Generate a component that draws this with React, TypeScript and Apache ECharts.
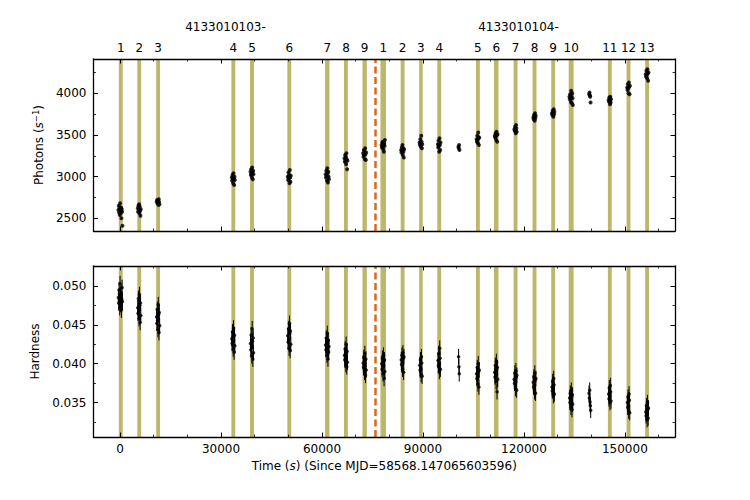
import React, { useEffect, useRef } from 'react';
import * as echarts from 'echarts';

const FONT = '"DejaVu Sans", sans-serif';

// ---- axes ----
const X_MIN = -7900;
const X_MAX = 164900;
const X_MAJOR_TICKS = [0, 30000, 60000, 90000, 120000, 150000];
const X_MINOR_TICKS = [0, 10000, 20000, 30000, 40000, 50000, 60000, 70000, 80000, 90000, 100000, 110000, 120000, 130000, 140000, 150000, 160000];
const PH_MIN = 2348;
const PH_MAX = 4412;
const PH_MAJOR_TICKS = [2500, 3000, 3500, 4000];
const PH_MINOR_TICKS = [2500, 2750, 3000, 3250, 3500, 3750, 4000, 4250];
const HR_MIN = 0.03057;
const HR_MAX = 0.05257;
const HR_MAJOR_TICKS = [0.035, 0.04, 0.045, 0.05];
const HR_MINOR_TICKS = [0.0325, 0.035, 0.0375, 0.04, 0.0425, 0.045, 0.0475, 0.05];

// ---- observations (shaded spans) ----
const OBS_LABELS = ['1', '2', '3', '4', '5', '6', '7', '8', '9', '1', '2', '3', '4', '5', '6', '7', '8', '9', '10', '11', '12', '13'];
const OBS_START = [-375, 5125, 10725, 33075, 38625, 49705, 60920, 66545, 72030, 77375, 83385, 88875, 94255, 105755, 111095, 116945, 122585, 128125, 133315, 144955, 150515, 156035];
const OBS_END = [775, 6275, 11875, 34225, 39775, 50855, 62220, 67695, 73330, 79025, 84535, 89925, 95405, 106905, 112445, 118095, 123735, 129275, 134765, 146105, 151665, 157185];
const GROUP_LABELS = ['4133010103-', '4133010104-'];
const SWITCH_TIME = 75830;

// ---- light-curve clusters ----
const BIN = 100;
const CLUSTER_TIMES = [100, 5700, 11300, 33650, 39200, 50280, 61570, 67120, 72680, 78200, 83960, 89400, 94830, 100690, 106330, 111770, 117520, 123160, 128700, 134040, 139600, 145530, 151090, 156610];
const PHOTON_ERR = 12;
const HARDNESS_ERR = 0.001;

const PHOTONS = [
  [2600, 2650, 2570, 2620, 2540, 2680, 2590, 2560, 2630, 2500, 2610, 2580, 2410],
  [2620, 2580, 2650, 2600, 2670, 2560, 2640, 2590, 2530, 2610],
  [2700, 2720, 2680, 2710, 2690, 2660, 2730, 2695, 2670],
  [2990, 2950, 3020, 2970, 2920, 3040, 2980, 2900, 3000, 2960],
  [3060, 3020, 3090, 3040, 2990, 3110, 3050, 2970, 3070, 3030],
  [3000, 2960, 3050, 2980, 3020, 2920, 3080, 2990, 2940, 3010],
  [3030, 2990, 3070, 3010, 2950, 3100, 3040, 2930, 3060, 3000, 2970],
  [3220, 3180, 3260, 3200, 3240, 3150, 3280, 3210, 3090, 3190],
  [3280, 3240, 3320, 3260, 3300, 3210, 3340, 3270, 3200, 3290],
  [3380, 3350, 3410, 3360, 3420, 3330, 3390, 3300, 3400, 3370, 3440],
  [3320, 3290, 3350, 3310, 3380, 3260, 3340, 3300, 3230, 3330],
  [3410, 3380, 3450, 3400, 3360, 3490, 3420, 3340, 3390],
  [3390, 3350, 3430, 3370, 3300, 3460, 3380, 3320, 3410],
  [3360, 3340, 3380, 3320],
  [3450, 3420, 3490, 3440, 3400, 3530, 3460, 3380, 3470],
  [3490, 3470, 3520, 3480, 3440, 3540, 3500, 3420, 3510],
  [3570, 3550, 3600, 3560, 3520, 3620, 3580, 3540],
  [3710, 3690, 3740, 3720, 3670, 3760, 3700, 3730],
  [3760, 3740, 3790, 3770, 3720, 3810, 3750, 3780],
  [3960, 3930, 3990, 3950, 3900, 4030, 3970, 3880, 4000, 3940, 3860],
  [3990, 4010, 3975, 3960, 3890],
  [3920, 3900, 3950, 3910, 3870, 3960, 3890, 3930],
  [4070, 4040, 4110, 4060, 4000, 4130, 4080, 3990, 4090],
  [4230, 4200, 4270, 4220, 4180, 4290, 4240, 4150, 4250],
];

const HARDNESS = [
  [0.0485, 0.0478, 0.0495, 0.0481, 0.0472, 0.0503, 0.0488, 0.0476, 0.0491, 0.0469, 0.0483, 0.0498, 0.048],
  [0.0472, 0.0465, 0.0484, 0.0468, 0.0458, 0.0489, 0.0475, 0.0453, 0.0478, 0.0462],
  [0.046, 0.0452, 0.047, 0.0456, 0.0444, 0.0476, 0.0463, 0.044, 0.0466, 0.0449],
  [0.0432, 0.0426, 0.0441, 0.0429, 0.0419, 0.0446, 0.0435, 0.0415, 0.0437, 0.0423],
  [0.0426, 0.0418, 0.0437, 0.0422, 0.041, 0.0445, 0.0429, 0.0406, 0.0433, 0.0414],
  [0.0436, 0.0428, 0.0445, 0.0431, 0.042, 0.0452, 0.0439, 0.0417, 0.0442, 0.0425],
  [0.0424, 0.0418, 0.0433, 0.0421, 0.0411, 0.0439, 0.0427, 0.0406, 0.043, 0.0415, 0.0422],
  [0.0411, 0.0405, 0.0419, 0.0408, 0.0399, 0.0425, 0.0414, 0.0396, 0.0416, 0.0402],
  [0.0401, 0.0395, 0.0408, 0.0398, 0.0389, 0.0413, 0.0404, 0.0385, 0.0406, 0.0392],
  [0.04, 0.0393, 0.0407, 0.0397, 0.0387, 0.0411, 0.0403, 0.0381, 0.0405, 0.039],
  [0.0405, 0.0399, 0.0411, 0.0402, 0.0393, 0.0414, 0.0407, 0.0389, 0.0409],
  [0.0398, 0.0392, 0.0405, 0.0395, 0.0386, 0.0409, 0.0401, 0.0384],
  [0.0404, 0.0397, 0.0413, 0.04, 0.039, 0.042, 0.0407, 0.0393],
  [0.0409, 0.0396, 0.0387],
  [0.0387, 0.0381, 0.0395, 0.0384, 0.0374, 0.04, 0.039, 0.037, 0.0392],
  [0.0389, 0.0383, 0.0398, 0.0386, 0.0377, 0.0403, 0.0392, 0.0364, 0.0395, 0.038],
  [0.038, 0.0375, 0.0388, 0.0378, 0.0368, 0.0391, 0.0383, 0.0366, 0.0385],
  [0.0376, 0.037, 0.0383, 0.0373, 0.0364, 0.0388, 0.0379, 0.0362, 0.0381],
  [0.037, 0.0365, 0.0377, 0.0368, 0.0359, 0.0381, 0.0373, 0.0361],
  [0.0356, 0.035, 0.0362, 0.0353, 0.0344, 0.0366, 0.0358, 0.0341, 0.036, 0.0348],
  [0.0362, 0.0356, 0.0366, 0.0351, 0.0346, 0.034],
  [0.0361, 0.0355, 0.0369, 0.0358, 0.035, 0.0372, 0.0364, 0.0352],
  [0.035, 0.0344, 0.0357, 0.0347, 0.0339, 0.0361, 0.0353, 0.0337],
  [0.0338, 0.0333, 0.0346, 0.0336, 0.0328, 0.035, 0.0341, 0.033, 0.0343],
];

const BAR_COLOR = '#bdb76b';
const SWITCH_COLOR = '#d9691e';

function buildPoints(values: number[][], err: number) {
  const pts: number[][] = [];
  CLUSTER_TIMES.forEach((t0, k) => {
    const vals = values[k];
    const n = vals.length;
    vals.forEach((v, i) => {
      pts.push([t0 + (i - (n - 1) / 2) * BIN, v, err]);
    });
  });
  return pts;
}

const barRender = (withLabels: boolean) => (params: any, api: any) => {
  const cs = params.coordSys;
  const x0 = api.coord([api.value(0), 0])[0];
  const x1 = api.coord([api.value(1), 0])[0];
  const children: any[] = [
    { type: 'rect', shape: { x: x0, y: cs.y, width: x1 - x0, height: cs.height }, style: { fill: BAR_COLOR } },
  ];
  if (withLabels) {
    children.push({
      type: 'text',
      x: (x0 + x1) / 2,
      y: cs.y - 11.5,
      style: {
        text: OBS_LABELS[params.dataIndex],
        fill: '#000',
        fontSize: 12,
        fontFamily: FONT,
        align: 'center',
        verticalAlign: 'middle',
      },
    });
  }
  return { type: 'group', children };
};

const errRender = (params: any, api: any) => {
  const t = api.value(0);
  const v = api.value(1);
  const e = api.value(2);
  const p0 = api.coord([t, v - e]);
  const p1 = api.coord([t, v + e]);
  return {
    type: 'line',
    shape: { x1: p0[0], y1: p0[1], x2: p1[0], y2: p1[1] },
    style: { stroke: '#000', lineWidth: 1 },
  };
};

const LINE = { color: '#000', width: 1.3 };

function xAxes(grid: number, withLabels: boolean) {
  const base = { type: 'value', gridIndex: grid, min: X_MIN, max: X_MAX, splitLine: { show: false }, z: 10 };
  return [
    {
      ...base,
      position: 'bottom',
      axisLine: { show: true, onZero: false, lineStyle: LINE },
      axisTick: { show: true, inside: true, length: 4.5, customValues: X_MAJOR_TICKS, lineStyle: { color: '#000', width: 1 } },
      axisLabel: withLabels
        ? { show: true, customValues: X_MAJOR_TICKS, margin: 6, color: '#000', fontSize: 12, fontFamily: FONT, formatter: (v: number) => String(v) }
        : { show: false },
      name: withLabels ? '{n|Time (}{i|s}{n|) (Since MJD=58568.147065603596)}' : '',
      nameLocation: 'middle',
      nameGap: 23,
      nameTextStyle: {
        rich: {
          n: { fontSize: 12, fontFamily: FONT, color: '#000' },
          i: { fontSize: 12, fontFamily: FONT, fontStyle: 'italic', color: '#000' },
        },
      },
    },
    {
      ...base,
      position: 'bottom',
      axisLine: { show: false, onZero: false },
      axisTick: { show: true, inside: true, length: 2.5, customValues: X_MINOR_TICKS, lineStyle: { color: '#000', width: 0.8 } },
      axisLabel: { show: false },
    },
    {
      ...base,
      position: 'top',
      axisLine: { show: true, onZero: false, lineStyle: LINE },
      axisTick: { show: true, inside: true, length: 4.5, customValues: X_MAJOR_TICKS, lineStyle: { color: '#000', width: 1 } },
      axisLabel: { show: false },
    },
    {
      ...base,
      position: 'top',
      axisLine: { show: false, onZero: false },
      axisTick: { show: true, inside: true, length: 2.5, customValues: X_MINOR_TICKS, lineStyle: { color: '#000', width: 0.8 } },
      axisLabel: { show: false },
    },
  ];
}

function yAxes(grid: number, min: number, max: number, major: number[], minor: number[], name: string, fmt: (v: number) => string) {
  const base = { type: 'value', gridIndex: grid, min, max, splitLine: { show: false }, z: 10 };
  return [
    {
      ...base,
      position: 'left',
      axisLine: { show: true, onZero: false, lineStyle: LINE },
      axisTick: { show: true, inside: true, length: 4.5, customValues: major, lineStyle: { color: '#000', width: 1 } },
      axisLabel: { show: true, customValues: major, margin: 7, color: '#000', fontSize: 12, fontFamily: FONT, formatter: fmt },
      name,
      nameLocation: 'middle',
      nameGap: 46,
      nameTextStyle: {
        rich: {
          n: { fontSize: 12, fontFamily: FONT, color: '#000', lineHeight: 16 },
          i: { fontSize: 12, fontFamily: FONT, fontStyle: 'italic', color: '#000', lineHeight: 16 },
          sup: { fontSize: 8.5, fontFamily: FONT, color: '#000', verticalAlign: 'top', lineHeight: 10 },
        },
      },
    },
    {
      ...base,
      position: 'left',
      axisLine: { show: false, onZero: false },
      axisTick: { show: true, inside: true, length: 2.5, customValues: minor, lineStyle: { color: '#000', width: 0.8 } },
      axisLabel: { show: false },
    },
    {
      ...base,
      position: 'right',
      axisLine: { show: true, onZero: false, lineStyle: LINE },
      axisTick: { show: true, inside: true, length: 4.5, customValues: major, lineStyle: { color: '#000', width: 1 } },
      axisLabel: { show: false },
    },
    {
      ...base,
      position: 'right',
      axisLine: { show: false, onZero: false },
      axisTick: { show: true, inside: true, length: 2.5, customValues: minor, lineStyle: { color: '#000', width: 0.8 } },
      axisLabel: { show: false },
    },
  ];
}

export default function App() {
  const ref = useRef<HTMLDivElement>(null);
  useEffect(() => {
    if (!ref.current) return;
    const chart = echarts.init(ref.current, undefined, { renderer: 'svg' });
    const obsData = OBS_START.map((s, i) => [s, OBS_END[i]]);
    const phPts = buildPoints(PHOTONS, PHOTON_ERR);
    const hrPts = buildPoints(HARDNESS, HARDNESS_ERR);
    const switchLine = {
      silent: true,
      symbol: ['none', 'none'],
      label: { show: false },
      lineStyle: { color: SWITCH_COLOR, width: 2.5, type: [7, 3.5] },
      data: [{ xAxis: SWITCH_TIME }],
    };
    chart.setOption({
      animation: false,
      backgroundColor: '#fff',
      grid: [
        { left: 93.5, top: 59, width: 581.5, height: 172 },
        { left: 93.5, top: 266, width: 581.5, height: 171 },
      ],
      xAxis: [...xAxes(0, false), ...xAxes(1, true)],
      yAxis: [
        ...yAxes(0, PH_MIN, PH_MAX, PH_MAJOR_TICKS, PH_MINOR_TICKS, '{n|Photons (}{i|s}{sup|−1}{n|)}', (v: number) => String(v)),
        ...yAxes(1, HR_MIN, HR_MAX, HR_MAJOR_TICKS, HR_MINOR_TICKS, '{n|Hardness}', (v: number) => v.toFixed(3)),
      ],
      graphic: [
        { type: 'text', x: 225.5, y: 27, style: { text: GROUP_LABELS[0], fill: '#000', fontSize: 12, fontFamily: FONT, align: 'center', verticalAlign: 'middle' } },
        { type: 'text', x: 518.5, y: 27, style: { text: GROUP_LABELS[1], fill: '#000', fontSize: 12, fontFamily: FONT, align: 'center', verticalAlign: 'middle' } },
      ],
      series: [
        { type: 'custom', xAxisIndex: 0, yAxisIndex: 0, z: 1, clip: false, renderItem: barRender(true), data: obsData, encode: { x: [0, 1] } },
        { type: 'custom', xAxisIndex: 4, yAxisIndex: 4, z: 1, clip: false, renderItem: barRender(false), data: obsData, encode: { x: [0, 1] } },
        { type: 'custom', xAxisIndex: 0, yAxisIndex: 0, z: 3, renderItem: errRender, data: phPts, encode: { x: 0, y: 1 } },
        { type: 'custom', xAxisIndex: 4, yAxisIndex: 4, z: 3, renderItem: errRender, data: hrPts, encode: { x: 0, y: 1 } },
        {
          type: 'scatter', xAxisIndex: 0, yAxisIndex: 0, z: 4, symbol: 'circle', symbolSize: 4,
          itemStyle: { color: '#000' }, data: phPts.map((p) => [p[0], p[1]]), markLine: switchLine,
        },
        {
          type: 'scatter', xAxisIndex: 4, yAxisIndex: 4, z: 4, symbol: 'circle', symbolSize: 3.5,
          itemStyle: { color: '#000' }, data: hrPts.map((p) => [p[0], p[1]]), markLine: switchLine,
        },
      ],
    });
    return () => chart.dispose();
  }, []);
  return <div ref={ref} style={{ position: 'absolute', left: 0, top: 0, width: 750, height: 500 }} />;
}
